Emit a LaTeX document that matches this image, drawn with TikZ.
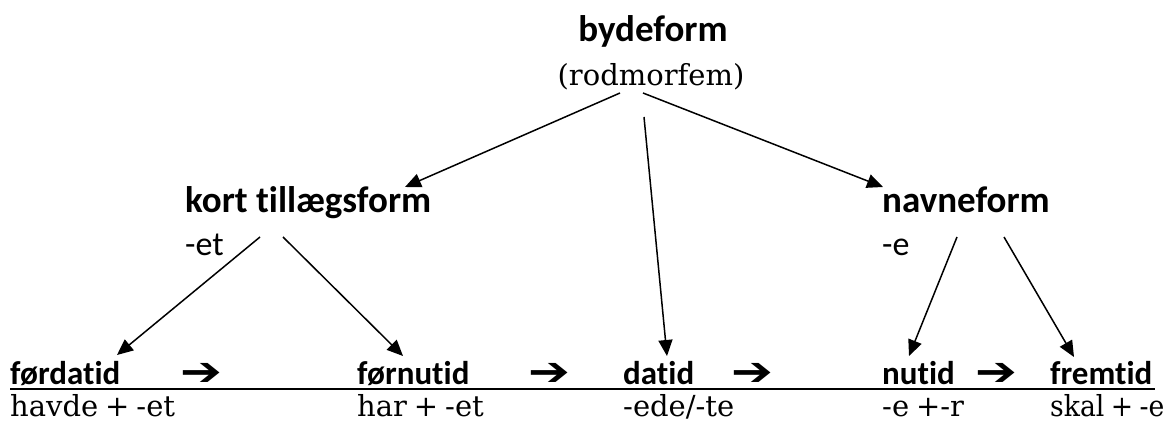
\documentclass[tikz,border=0pt]{standalone}
\usepackage{fontspec}
\usetikzlibrary{arrows.meta}
\newfontfamily\headfont[Ligatures=NoCommon]{Carlito}
\newfontfamily\bodyfont{DejaVu Serif}
\newfontfamily\symfont{DejaVu Sans}
\newcommand\myformfont{\bodyfont\fontsize{29}{34}\selectfont}
\newcommand\tight[1]{{\spaceskip=0.24em\relax #1}}
\begin{document}
\begin{tikzpicture}[x=1pt,y=-1pt,
  headlbl/.style={inner sep=0pt,font=\headfont\bfseries\fontsize{37}{40}\selectfont},
  smalllbl/.style={inner sep=0pt,font=\headfont\fontsize{34}{40}\selectfont},
  tenselbl/.style={inner sep=0pt,anchor=base west,font=\headfont\bfseries\fontsize{33}{38}\selectfont},
  formlbl/.style={inner sep=0pt,anchor=base west,font=\myformfont},
  seqarrow/.style={inner sep=0pt,anchor=base,font=\symfont\fontsize{40}{44}\selectfont},
  conn/.style={line width=1.5pt,-{Triangle[length=16pt,width=14pt]}}]
\useasboundingbox (0,0) rectangle (1168,427);
% top
\node[headlbl,anchor=base] (top) at (653,42) {bydeform};
\node[formlbl,anchor=base] (topsub) at (651,86) {(rodmorfem)};
% middle
\node[headlbl,anchor=base west] (ktf) at (185,213) {kort tillægsform};
\node[smalllbl,anchor=base west] (ktfsub) at (185,256) {-et};
\node[headlbl,anchor=base west] (nav) at (882,213) {navneform};
\node[smalllbl,anchor=base west] (navsub) at (882,256) {-e};
% bottom
\node[tenselbl] (fdat) at (10,385) {førdatid};
\node[tenselbl] (fnut) at (357,385) {førnutid};
\node[tenselbl] (dat) at (623,385) {datid};
\node[tenselbl] (nut) at (882,385) {nutid};
\node[tenselbl] (frem) at (1050,385) {fremtid};
\node[seqarrow] (a1) at (201,386) {\scalebox{1.25}[1]{➔}};
\node[seqarrow] (a2) at (549,386) {\scalebox{1.25}[1]{➔}};
\node[seqarrow] (a3) at (752,386) {\scalebox{1.25}[1]{➔}};
\node[seqarrow] (a4) at (996,386) {\scalebox{1.25}[1]{➔}};
\node[formlbl] (ffdat) at (10,417) {\tight{havde + -et}};
\node[formlbl] (ffnut) at (357,417) {\tight{har + -et}};
\node[formlbl] (fdatf) at (623,417) {-ede/-te};
\node[formlbl] (fnutf) at (882,417) {\tight{-e +-r}};
\node[formlbl] (ffrem) at (1050,417) {\scalebox{0.92}[1]{\tight{skal + -e}}};
% underline
\coordinate (ulA) at (10,389);
\coordinate (ulB) at (1155,389);
\draw[line width=2pt] (ulA) -- (ulB);
% connector end points
\coordinate (tL) at (620,93);
\coordinate (tR) at (643,93);
\coordinate (tM) at (644,117);
\coordinate (kIn) at (405,187);
\coordinate (nIn) at (883,187);
\coordinate (dIn) at (667,356);
\coordinate (kL) at (260,237);
\coordinate (kR) at (283,237);
\coordinate (fdIn) at (117,355);
\coordinate (fnIn) at (403,356);
\coordinate (nL) at (957,237);
\coordinate (nR) at (1004,237);
\coordinate (nuIn) at (909,356);
\coordinate (frIn) at (1074,357);
\draw[conn] (tL) -- (kIn);
\draw[conn] (tR) -- (nIn);
\draw[conn] (tM) -- (dIn);
\draw[conn] (kL) -- (fdIn);
\draw[conn] (kR) -- (fnIn);
\draw[conn] (nL) -- (nuIn);
\draw[conn] (nR) -- (frIn);
\end{tikzpicture}
\end{document}
